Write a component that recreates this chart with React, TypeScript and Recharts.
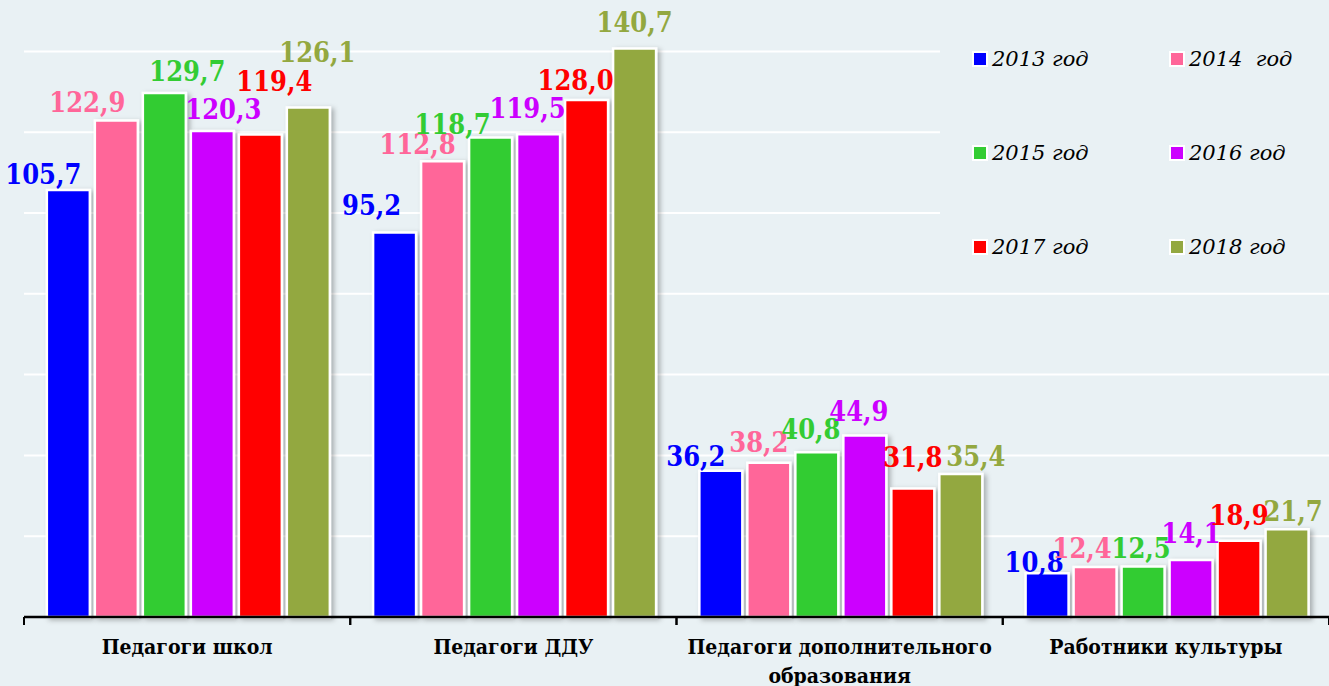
import React from 'react';
import { BarChart, Bar, XAxis, YAxis, CartesianGrid, LabelList } from 'recharts';

const categories = [
  'Педагоги школ',
  'Педагоги ДДУ',
  'Педагоги дополнительного образования',
  'Работники культуры',
];
const seriesNames = ['2013 год', '2014  год', '2015 год', '2016 год', '2017 год', '2018 год'];
const v2013 = [105.7, 95.2, 36.2, 10.8];
const v2014 = [122.9, 112.8, 38.2, 12.4];
const v2015 = [129.7, 118.7, 40.8, 12.5];
const v2016 = [120.3, 119.5, 44.9, 14.1];
const v2017 = [119.4, 128.0, 31.8, 18.9];
const v2018 = [126.1, 140.7, 35.4, 21.7];
const yTicks = [0, 20, 40, 60, 80, 100, 120, 140];

const seriesValues = [v2013, v2014, v2015, v2016, v2017, v2018];
const colors = ['#0000ff', '#ff6699', '#33cc33', '#cc00ff', '#ff0000', '#93a840'];
const keys = ['s2013', 's2014', 's2015', 's2016', 's2017', 's2018'];

// label nudges (styling only): horizontal shift and gap above bar, per series per category
const labelDx = [
  [-25, -23, -25, -13],
  [-29, -25, -10, -13],
  [23, -38, -6, -2],
  [11, -11, -6, 0],
  [14, -11, 0, 0],
  [9, 0, 15, 6],
];
const labelGap = [
  [6, 17, 5, 1],
  [8, 7, 11, 9],
  [12, 3, 13, 9],
  [12, 16, 15, 17],
  [44, 10, 22, 16],
  [46, 17, 8, 8],
];

const data = categories.map((name, i) => {
  const row: any = { name };
  keys.forEach((k, j) => {
    row[k] = seriesValues[j][i];
  });
  return row;
});

const BG = '#e9f1f4';
const SERIF = '"DejaVu Serif", "Liberation Serif", serif';
const SERIF_C = '"DejaVu Serif Condensed", "DejaVu Serif", serif';

const fmt = (v: any) => Number(v).toFixed(1).replace('.', ',');

const splitLabel = (s: string): string[] => {
  if (s.length <= 26) return [s];
  const idx = s.lastIndexOf(' ');
  return [s.slice(0, idx), s.slice(idx + 1)];
};

const CategoryTick = (props: any) => {
  const { x, y, payload } = props;
  const half = payload && payload.offset ? payload.offset : 163;
  const lines = splitLabel(String(payload.value));
  return (
    <g>
      <line x1={x - half} x2={x - half} y1={y - 8} y2={y} stroke="#000" strokeWidth={2} />
      <line x1={x + half} x2={x + half} y1={y - 8} y2={y} stroke="#000" strokeWidth={2} />
      <text
        x={x}
        y={y + 29}
        textAnchor="middle"
        fontFamily={SERIF_C}
        fontWeight="bold"
        fontSize={21}
        fill="#000"
      >
        {lines.map((l, i) => (
          <tspan key={i} x={x} dy={i === 0 ? 0 : 29}>
            {l}
          </tspan>
        ))}
      </text>
    </g>
  );
};

const makeLabel = (si: number) => (props: any) => {
  const { x, y, width, value, index } = props;
  const dx = labelDx[si][index] || 0;
  const gap = labelGap[si][index] ?? 6;
  return (
    <text
      x={Number(x) + Number(width) / 2 + dx}
      y={Number(y) - gap}
      textAnchor="middle"
      fill={colors[si]}
      fontFamily={SERIF_C}
      fontWeight="bold"
      fontSize={27}
    >
      {fmt(value)}
    </text>
  );
};

const Legend6 = () => {
  const colX = [972, 1169];
  const rowY = [50, 144, 238];
  return (
    <div
      style={{
        position: 'absolute',
        left: 940,
        top: 22,
        width: 389,
        height: 252,
        background: BG,
      }}
    >
      {seriesNames.map((n, i) => {
        const col = i % 2;
        const row = Math.floor(i / 2);
        return (
          <div
            key={n}
            style={{
              position: 'absolute',
              left: colX[col] - 940,
              top: rowY[row] - 22,
              display: 'flex',
              alignItems: 'center',
              height: 18,
            }}
          >
            <div
              style={{
                width: 12,
                height: 12,
                background: colors[i],
                border: '2.5px solid #fff',
                boxSizing: 'content-box',
              }}
            />
            <span
              style={{
                marginLeft: 4,
                fontFamily: SERIF,
                fontStyle: 'italic',
                fontSize: 21,
                color: '#000',
                whiteSpace: 'pre',
                lineHeight: '18px',
              }}
            >
              {n}
            </span>
          </div>
        );
      })}
    </div>
  );
};

export default function App() {
  return (
    <div
      style={{
        position: 'absolute',
        left: 0,
        top: 0,
        width: 1329,
        height: 686,
        background: BG,
        overflow: 'hidden',
      }}
    >
      <svg width={0} height={0} style={{ position: 'absolute' }}>
        <defs>
          <filter id="barShadow" x="-20%" y="-20%" width="150%" height="150%">
            <feDropShadow dx="3" dy="2" stdDeviation="2.5" floodColor="#000" floodOpacity="0.28" />
          </filter>
        </defs>
      </svg>
      <BarChart
        width={1329}
        height={686}
        data={data}
        margin={{ top: 11, right: 0, bottom: 0, left: 24 }}
        barCategoryGap="7%"
        barGap={5}
      >
        <CartesianGrid vertical={false} stroke="#ffffff" strokeWidth={2} horizontalValues={yTicks} />
        <YAxis hide domain={[0, 150]} ticks={yTicks} type="number" />
        <XAxis
          dataKey="name"
          height={69}
          axisLine={{ stroke: '#000', strokeWidth: 2.5 }}
          tickLine={false}
          tickSize={8}
          tickMargin={0}
          interval={0}
          tick={<CategoryTick />}
        />
        {keys.map((k, i) => (
          <Bar
            key={k}
            dataKey={k}
            name={seriesNames[i]}
            fill={colors[i]}
            stroke="#ffffff"
            strokeWidth={2.5}
            isAnimationActive={false}
            style={{ filter: 'url(#barShadow)' }}
          >
            <LabelList dataKey={k} content={makeLabel(i)} />
          </Bar>
        ))}
      </BarChart>
      <Legend6 />
    </div>
  );
}
